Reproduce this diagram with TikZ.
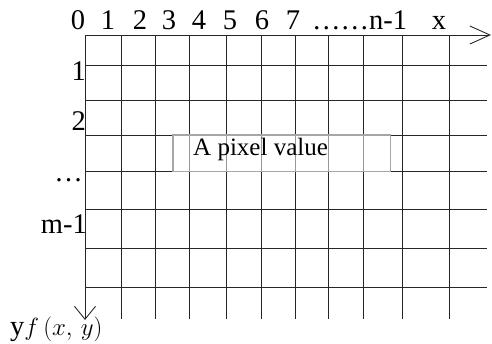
\documentclass[tikz,border=0pt]{standalone}
\usepackage{fontspec}
\setmainfont{Liberation Serif}
\usetikzlibrary{arrows.meta}
\begin{document}
\begin{tikzpicture}[x=1pt,y=-1pt,
  gridline/.style={line width=0.9pt,black!85},
  fadeline/.style={line width=0.9pt,black!40},
  axisline/.style={line width=0.9pt,black!85},
  lbl/.style={inner sep=0pt,font=\fontsize{28.5}{30}\selectfont},
  boxlbl/.style={inner sep=0pt,font=\fontsize{25}{27}\selectfont},
  pixbox/.style={fill=white,inner sep=0pt,minimum width=217pt,minimum height=36pt,anchor=north west},
  pixedge/.style={draw=black!35,line width=1.6pt}]
\useasboundingbox (0,0) rectangle (492,343);
% grid
\foreach \x in {121,155,189,226,261,295,328,363,402,449}
  \draw[gridline] (\x,35) -- (\x,319);
\foreach \y in {65,100,135,171,209,248,287}
  \draw[gridline] (85,\y) -- (487,\y);
% axes
\coordinate (o) at (85,35);
\coordinate (xend) at (491,35);
\coordinate (yend) at (85,320);
\draw[axisline,-{Straight Barb[length=20pt,width=18pt]}] (o) -- (xend);
\draw[axisline,-{Straight Barb[length=13pt,width=21pt]}] (o) -- (yend);
% pixel box (semi-transparent look)
\node[pixbox] (box) at (173,135) {};
\foreach \x in {189,226,261,295,328,363}
  \draw[fadeline] (\x,135) -- (\x,171);
\draw[pixedge] (box.north west) rectangle (box.south east);
\node[boxlbl,anchor=base west] (pv) at (193,155) {A pixel value};
% top labels
\node[lbl,anchor=base] (c0) at (78,29) {0};
\node[lbl,anchor=base] (c1) at (108,29) {1};
\node[lbl,anchor=base] (c2) at (140,29) {2};
\node[lbl,anchor=base] (c3) at (169,29) {3};
\node[lbl,anchor=base] (c4) at (199,29) {4};
\node[lbl,anchor=base] (c5) at (230,29) {5};
\node[lbl,anchor=base] (c6) at (262,29) {6};
\node[lbl,anchor=base] (c7) at (293,29) {7};
\node[lbl,anchor=base west] (cn) at (312,29) {……n-1};
\node[lbl,anchor=base] (cx) at (439,29) {x};
% left labels
\node[lbl,anchor=base east] (r1) at (86,80) {1};
\node[lbl,anchor=base east] (r2) at (86,130) {2};
\node[lbl,anchor=base east] (rd) at (83,181) {…};
\node[lbl,anchor=base east] (rm) at (87,233) {m-1};
% bottom label
\node[lbl,anchor=base west] (fy) at (10,335) {y$f\,(x,\,y)$};
\end{tikzpicture}
\end{document}
